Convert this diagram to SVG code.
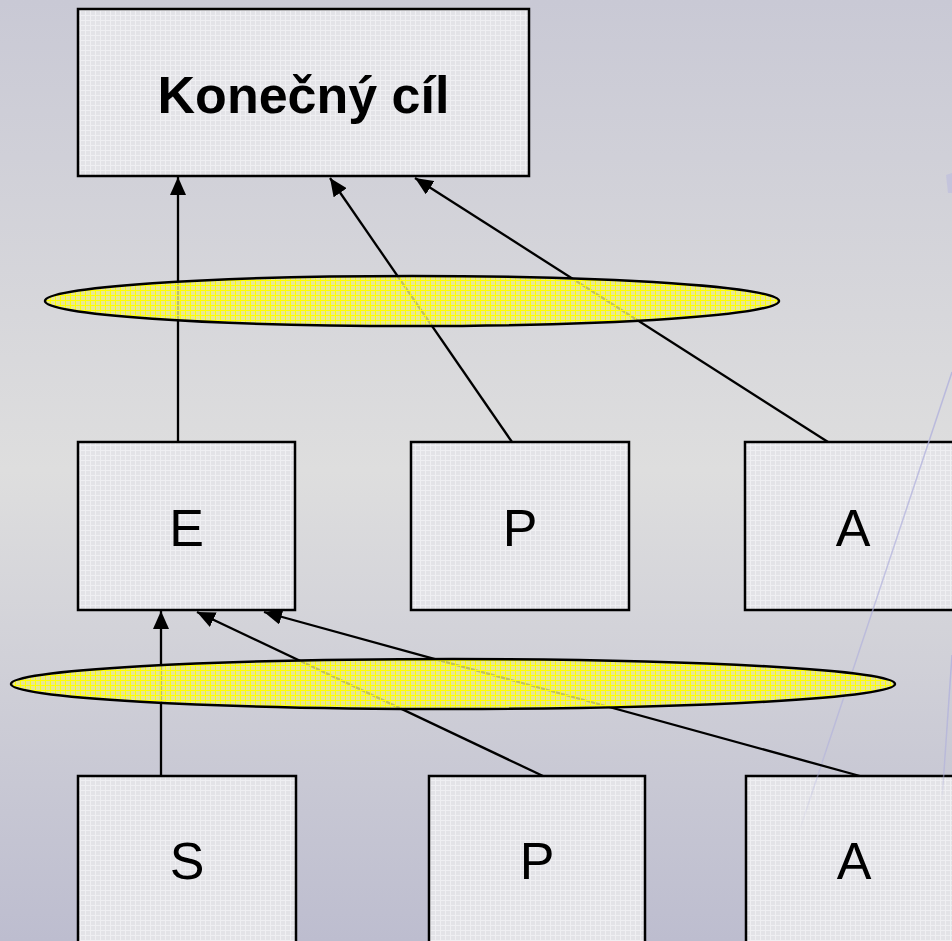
<svg xmlns="http://www.w3.org/2000/svg" width="952" height="941" viewBox="0 0 952 941">
  <defs>
    <linearGradient id="bg" x1="0" y1="0" x2="0" y2="1">
      <stop offset="0" stop-color="#c9c9d5"/>
      <stop offset="0.5" stop-color="#dedede"/>
      <stop offset="1" stop-color="#bdbdcf"/>
    </linearGradient>
    <linearGradient id="fade1" gradientUnits="userSpaceOnUse" x1="952" y1="372" x2="797" y2="838">
      <stop offset="0" stop-color="#b0b0dc" stop-opacity="0.8"/>
      <stop offset="0.8" stop-color="#b0b0dc" stop-opacity="0.6"/>
      <stop offset="1" stop-color="#b0b0dc" stop-opacity="0"/>
    </linearGradient>
    <linearGradient id="fade2" gradientUnits="userSpaceOnUse" x1="952" y1="655" x2="942" y2="800">
      <stop offset="0" stop-color="#b0b0dc" stop-opacity="0.8"/>
      <stop offset="0.8" stop-color="#b0b0dc" stop-opacity="0.6"/>
      <stop offset="1" stop-color="#b0b0dc" stop-opacity="0"/>
    </linearGradient>
    <pattern id="boxTex" width="5" height="5" patternUnits="userSpaceOnUse">
      <rect width="5" height="5" fill="#e3e3e7"/>
      <path d="M0 0.5H5M0.5 0V5" stroke="#efeff2" stroke-width="1"/>
    </pattern>
    <pattern id="ellTex" width="5" height="5" patternUnits="userSpaceOnUse">
      <rect width="5" height="5" fill="#eeee80" fill-opacity="0.8"/>
      <path d="M0 0.5H5M0.5 0V5" stroke="#ffff00" stroke-width="1"/>
    </pattern>
    <marker id="arr" viewBox="0 0 18 16" refX="18" refY="8" markerWidth="18" markerHeight="16" markerUnits="userSpaceOnUse" orient="auto">
      <path d="M0 0L18 8L0 16Z" fill="#000"/>
    </marker>
  </defs>
  <style>
    .box { fill: url(#boxTex); stroke: #000; stroke-width: 2.5; }
    .lbl { font-family: "Liberation Sans", Arial, sans-serif; font-size: 52px; fill: #000; text-anchor: middle; }
    .bold { font-weight: bold; }
    .conn { stroke: #000; stroke-width: 2.3; fill: none; marker-end: url(#arr); }
    .ell { fill: url(#ellTex); stroke: #000; stroke-width: 2.5; }
    .deco { stroke-width: 1.5; fill: none; }
  </style>
  <rect width="952" height="941" fill="url(#bg)"/>

  <g id="goal">
    <rect class="box" x="78" y="9" width="451" height="167"/>
    <text class="lbl bold" x="303.5" y="113">Konečný cíl</text>
  </g>
  <g id="mid-E">
    <rect class="box" x="78" y="442" width="217" height="168"/>
    <text class="lbl" x="186.5" y="546">E</text>
  </g>
  <g id="mid-P">
    <rect class="box" x="411" y="442" width="218" height="168"/>
    <text class="lbl" x="520" y="546">P</text>
  </g>
  <g id="mid-A">
    <rect class="box" x="745" y="442" width="217" height="168"/>
    <text class="lbl" x="853" y="546">A</text>
  </g>
  <g id="bot-S">
    <rect class="box" x="78" y="776" width="218" height="180"/>
    <text class="lbl" x="187" y="879">S</text>
  </g>
  <g id="bot-P">
    <rect class="box" x="429" y="776" width="216" height="180"/>
    <text class="lbl" x="537" y="879">P</text>
  </g>
  <g id="bot-A">
    <rect class="box" x="746" y="776" width="217" height="180"/>
    <text class="lbl" x="854" y="879">A</text>
  </g>

  <g id="decoration">
    <polygon points="946,175 952,173 952,193 948,193" fill="#c4c4dc"/>
    <line class="deco" x1="952" y1="372" x2="797" y2="838" stroke="url(#fade1)"/>
    <line class="deco" x1="952" y1="655" x2="942" y2="800" stroke="url(#fade2)"/>
  </g>

  <g id="connectors">
    <line class="conn" x1="178" y1="442" x2="178" y2="177"/>
    <line class="conn" x1="512" y1="442" x2="330" y2="178"/>
    <line class="conn" x1="828" y1="442" x2="415" y2="178"/>
    <line class="conn" x1="161" y1="776" x2="161" y2="611"/>
    <line class="conn" x1="543" y1="776" x2="197" y2="612"/>
    <line class="conn" x1="860" y1="776" x2="264" y2="612"/>
  </g>

  <g id="ellipses">
    <ellipse class="ell" cx="412" cy="301" rx="367" ry="25"/>
    <ellipse class="ell" cx="453" cy="684" rx="442" ry="25"/>
  </g>
</svg>
